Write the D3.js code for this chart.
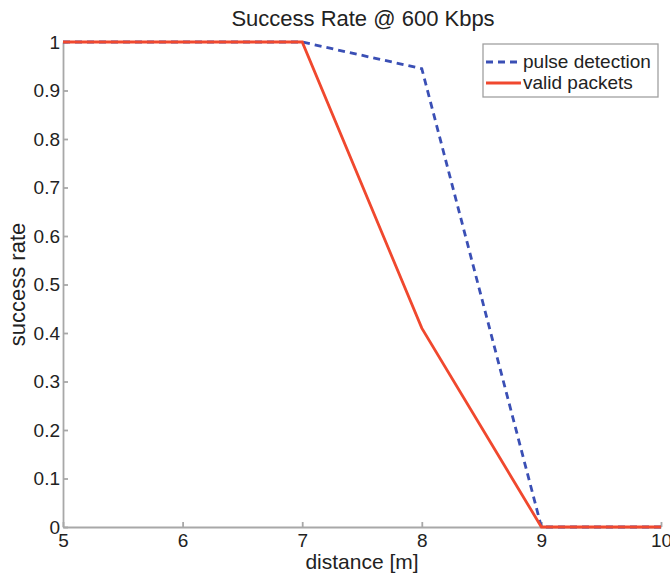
<!DOCTYPE html>
<html>
<head>
<meta charset="utf-8">
<script src="https://cdn.jsdelivr.net/npm/d3@7"></script>
<style>
  body { margin: 0; background: #fff; overflow: hidden; }
  text { font-family: "Liberation Sans", Arial, sans-serif; fill: #222; }
</style>
</head>
<body>
<div class="root"></div>
<script>
var distance = [5, 6, 7, 8, 9, 10];
var pulseDetection = [1, 1, 1, 0.945, 0, 0];
var validPackets = [1, 1, 1, 0.41, 0, 0];
var xTicks = [5, 6, 7, 8, 9, 10];
var yTicks = [0, 0.1, 0.2, 0.3, 0.4, 0.5, 0.6, 0.7, 0.8, 0.9, 1];

function runChart() {
  var w = 670, h = 575;
  var m = {top: 42, right: 9, bottom: 48, left: 63};

  var svg = d3.select('.root').append('svg')
    .attr('width', w)
    .attr('height', h);

  var x = d3.scaleLinear().domain([5, 10]).range([m.left, w - m.right]);
  var y = d3.scaleLinear().domain([0, 1]).range([h - m.bottom, m.top]);

  var xAxis = svg.append('g')
    .attr('transform', 'translate(0,' + (h - m.bottom) + ')')
    .call(d3.axisBottom(x).tickValues(xTicks).tickSizeInner(-5).tickSizeOuter(0).tickPadding(7).tickFormat(d3.format('d')));
  var yAxis = svg.append('g')
    .attr('transform', 'translate(' + m.left + ',0)')
    .call(d3.axisLeft(y).tickValues(yTicks).tickSizeInner(-5).tickSizeOuter(0).tickPadding(3)
      .tickFormat(function(d) { return d === 0 || d === 1 ? d : d3.format('.1f')(d); }));

  [xAxis, yAxis].forEach(function(a) {
    a.selectAll('path, line').attr('stroke', '#a8a8a8').attr('stroke-width', 1.8);
    a.selectAll('text').style('font-size', '19px').attr('fill', '#222');
  });

  var line = d3.line()
    .x(function(d) { return x(d[0]); })
    .y(function(d) { return y(d[1]); });

  svg.append('path')
    .datum(d3.zip(distance, pulseDetection))
    .attr('fill', 'none')
    .attr('stroke', '#3a4fb5')
    .attr('stroke-width', 2.8)
    .attr('stroke-dasharray', '7,5')
    .attr('d', line);

  svg.append('path')
    .datum(d3.zip(distance, validPackets))
    .attr('fill', 'none')
    .attr('stroke', '#f0482e')
    .attr('stroke-width', 2.8)
    .attr('d', line);

  svg.append('text')
    .attr('x', (m.left + w - m.right) / 2 + 1)
    .attr('y', 26)
    .attr('text-anchor', 'middle')
    .style('font-size', '22px')
    .text('Success Rate @ 600 Kbps');

  svg.append('text')
    .attr('x', 362)
    .attr('y', 569)
    .attr('text-anchor', 'middle')
    .style('font-size', '21px')
    .text('distance [m]');

  svg.append('text')
    .attr('transform', 'translate(25,' + ((m.top + h - m.bottom) / 2) + ') rotate(-90)')
    .attr('text-anchor', 'middle')
    .style('font-size', '22px')
    .text('success rate');

  // legend
  var lg = svg.append('g').attr('transform', 'translate(483,44)');
  lg.append('rect')
    .attr('width', 175).attr('height', 53)
    .attr('fill', '#fff').attr('stroke', '#a0a0a0').attr('stroke-width', 1.3);
  var items = [
    {name: 'pulse detection', color: '#3a4fb5', dash: '7,5'},
    {name: 'valid packets', color: '#f0482e', dash: null}
  ];
  items.forEach(function(it, i) {
    var yy = 18 + i * 21;
    lg.append('line')
      .attr('x1', 3).attr('x2', 38).attr('y1', yy).attr('y2', yy)
      .attr('stroke', it.color).attr('stroke-width', 2.8)
      .attr('stroke-dasharray', it.dash);
    lg.append('text')
      .attr('x', 40).attr('y', yy + 6)
      .style('font-size', '19px')
      .text(it.name);
  });
}

window.onload = function() {
  runChart();
};
</script>
</body>
</html>
